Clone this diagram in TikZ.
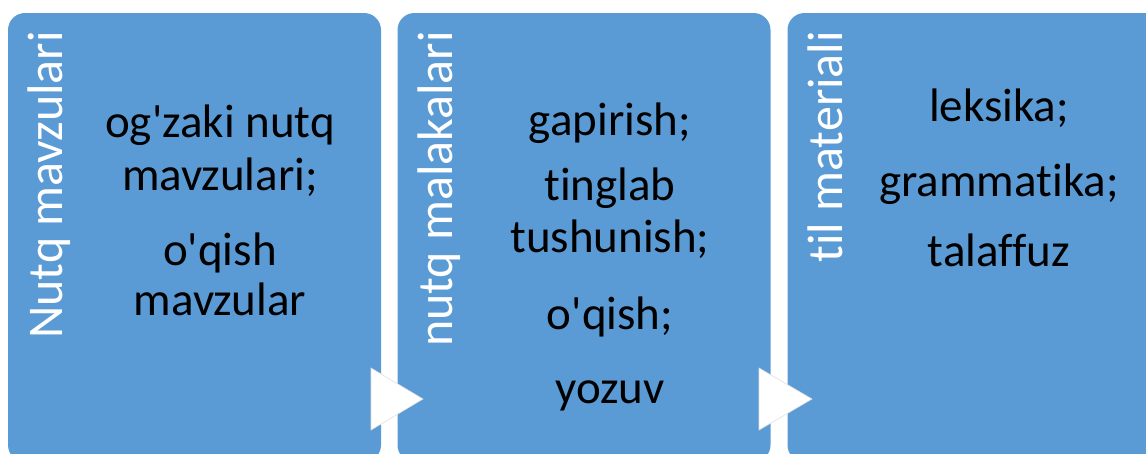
\documentclass[tikz,border=0pt]{standalone}
\usepackage{fontspec}
\setmainfont{Carlito}[Ligatures={NoCommon,NoRequired}]
\definecolor{boxblue}{RGB}{91,155,213}
\tikzset{
  panel/.style={fill=boxblue, draw=none, rounded corners=17pt, minimum width=373pt, minimum height=449pt, inner sep=0pt, outer sep=0pt},
  paneltitle/.style={rotate=90, anchor=base east, text=white, inner sep=0pt, font=\fontsize{50}{60}\selectfont},
  item/.style={anchor=base, text=black, inner sep=0pt, font=\fontsize{47}{56}\selectfont},
  flowarrow/.style={fill=white, draw=black!12, line width=0.6pt, line join=miter}
}
\newcommand{\ap}{\textquotesingle}
\begin{document}
\begin{tikzpicture}[x=1pt,y=-1pt]
\useasboundingbox (0,0) rectangle (1146,453);
\clip (0,0) rectangle (1146,453);
% panels
\node[panel] (p1) at (194.5,237.5) {};
\node[panel] (p2) at (584,237.5) {};
\node[panel] (p3) at (974,237.5) {};
% titles
\node[paneltitle] (t1) at (62,31) {Nutq mavzulari};
\node[paneltitle] (t2) at (452,31) {nutq malakalari};
\node[paneltitle] (t3) at (842,31) {til materiali};
% panel 1 text
\node[item] (a1) at (220,137) {og\ap zaki nutq};
\node[item] (a2) at (220,190) {mavzulari;};
\node[item] (a3) at (220,265) {o\ap qish};
\node[item] (a4) at (220,315) {mavzular};
% panel 2 text
\node[item] (b1) at (610,135) {gapirish;};
\node[item] (b2) at (610,200) {tinglab};
\node[item] (b3) at (610,252) {tushunish;};
\node[item] (b4) at (610,329) {o\ap qish;};
\node[item] (b5) at (610,403) {yozuv};
% panel 3 text
\node[item] (c1) at (999,121) {leksika;};
\node[item] (c2) at (999,196) {grammatika;};
\node[item] (c3) at (999,266) {talaffuz};
% arrows
\coordinate (r1a) at (371,368);
\coordinate (r1b) at (371,430);
\coordinate (r1c) at (423,399);
\coordinate (r2a) at (759,368);
\coordinate (r2b) at (759,430);
\coordinate (r2c) at (812,399);
\path[flowarrow] (r1a) -- (r1c) -- (r1b) -- cycle;
\path[flowarrow] (r2a) -- (r2c) -- (r2b) -- cycle;
\end{tikzpicture}
\end{document}
